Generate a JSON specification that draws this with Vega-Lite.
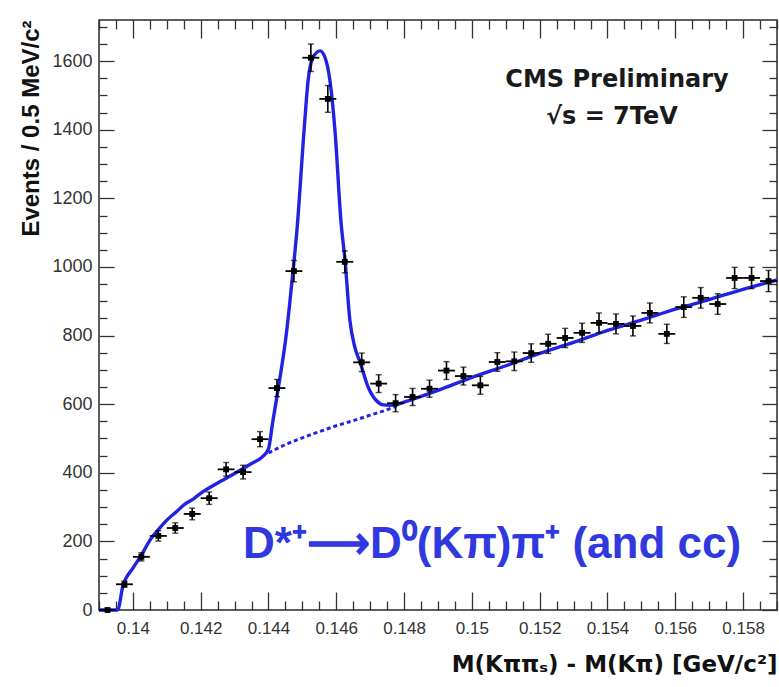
{
  "$schema": "https://vega.github.io/schema/vega-lite/v6.json",
  "width": 678,
  "height": 590,
  "autosize": {"type": "none"},
  "padding": {"left": 99, "top": 20, "right": 2, "bottom": 77},
  "background": "white",
  "config": {
    "font": "Liberation Sans",
    "view": {"stroke": "#2a2a2a", "strokeWidth": 1.5}
  },
  "datasets": {
    "bins": [
      {"x": 0.13925, "n": 0, "e": 0},
      {"x": 0.13975, "n": 75, "e": 9},
      {"x": 0.14025, "n": 155, "e": 12},
      {"x": 0.14075, "n": 216, "e": 15},
      {"x": 0.14125, "n": 239, "e": 15},
      {"x": 0.14175, "n": 280, "e": 17},
      {"x": 0.14225, "n": 326, "e": 18},
      {"x": 0.14275, "n": 410, "e": 20},
      {"x": 0.14325, "n": 402, "e": 20},
      {"x": 0.14375, "n": 498, "e": 22},
      {"x": 0.14425, "n": 647, "e": 25},
      {"x": 0.14475, "n": 988, "e": 31},
      {"x": 0.14525, "n": 1610, "e": 40},
      {"x": 0.14575, "n": 1490, "e": 39},
      {"x": 0.14625, "n": 1015, "e": 32},
      {"x": 0.14675, "n": 722, "e": 27},
      {"x": 0.14725, "n": 660, "e": 26},
      {"x": 0.14775, "n": 603, "e": 25},
      {"x": 0.14825, "n": 621, "e": 25},
      {"x": 0.14875, "n": 645, "e": 25},
      {"x": 0.14925, "n": 698, "e": 26},
      {"x": 0.14975, "n": 682, "e": 26},
      {"x": 0.15025, "n": 655, "e": 26},
      {"x": 0.15075, "n": 723, "e": 27},
      {"x": 0.15125, "n": 725, "e": 27},
      {"x": 0.15175, "n": 749, "e": 27},
      {"x": 0.15225, "n": 776, "e": 28},
      {"x": 0.15275, "n": 793, "e": 28},
      {"x": 0.15325, "n": 808, "e": 28},
      {"x": 0.15375, "n": 837, "e": 29},
      {"x": 0.15425, "n": 834, "e": 29},
      {"x": 0.15475, "n": 828, "e": 29},
      {"x": 0.15525, "n": 866, "e": 29},
      {"x": 0.15575, "n": 805, "e": 28},
      {"x": 0.15625, "n": 883, "e": 30},
      {"x": 0.15675, "n": 910, "e": 30},
      {"x": 0.15725, "n": 892, "e": 30},
      {"x": 0.15775, "n": 968, "e": 31},
      {"x": 0.15825, "n": 968, "e": 31},
      {"x": 0.15875, "n": 959, "e": 31}
    ],
    "fit": [
      {"x": 0.139, "n": 0},
      {"x": 0.13955, "n": 0},
      {"x": 0.1397, "n": 68},
      {"x": 0.14, "n": 122},
      {"x": 0.14025, "n": 160},
      {"x": 0.1405, "n": 203},
      {"x": 0.1408, "n": 240},
      {"x": 0.141, "n": 262},
      {"x": 0.1413, "n": 288},
      {"x": 0.1415, "n": 306},
      {"x": 0.1418, "n": 325},
      {"x": 0.142, "n": 340},
      {"x": 0.1425, "n": 370},
      {"x": 0.143, "n": 398},
      {"x": 0.1435, "n": 427},
      {"x": 0.1438, "n": 445},
      {"x": 0.144, "n": 470},
      {"x": 0.14412, "n": 545},
      {"x": 0.14427, "n": 635},
      {"x": 0.14452, "n": 800},
      {"x": 0.14472, "n": 985},
      {"x": 0.14484, "n": 1108},
      {"x": 0.14505, "n": 1399},
      {"x": 0.14517, "n": 1545},
      {"x": 0.14531, "n": 1610},
      {"x": 0.14552, "n": 1630},
      {"x": 0.14567, "n": 1610},
      {"x": 0.14581, "n": 1545},
      {"x": 0.14596, "n": 1399},
      {"x": 0.14614, "n": 1130},
      {"x": 0.14626, "n": 1017},
      {"x": 0.1464, "n": 845},
      {"x": 0.14655, "n": 765},
      {"x": 0.1467, "n": 723},
      {"x": 0.14694, "n": 650},
      {"x": 0.14723, "n": 606},
      {"x": 0.14738, "n": 598},
      {"x": 0.1476, "n": 597},
      {"x": 0.1478, "n": 600},
      {"x": 0.148, "n": 606},
      {"x": 0.149, "n": 640},
      {"x": 0.15, "n": 678},
      {"x": 0.151, "n": 712},
      {"x": 0.152, "n": 748},
      {"x": 0.153, "n": 780},
      {"x": 0.154, "n": 815},
      {"x": 0.155, "n": 845},
      {"x": 0.156, "n": 877},
      {"x": 0.157, "n": 905},
      {"x": 0.158, "n": 935},
      {"x": 0.159, "n": 962}
    ],
    "background": [
      {"x": 0.144, "n": 458},
      {"x": 0.1445, "n": 482},
      {"x": 0.145, "n": 502},
      {"x": 0.1455, "n": 520},
      {"x": 0.146, "n": 537},
      {"x": 0.1465, "n": 552},
      {"x": 0.147, "n": 568},
      {"x": 0.1475, "n": 584},
      {"x": 0.1478, "n": 596}
    ]
  },
  "layer": [
    {
      "data": {"name": "fit"},
      "mark": {"type": "line", "color": "#2222e4", "strokeWidth": 3.4, "interpolate": "monotone"},
      "encoding": {
        "x": {
          "field": "x", "type": "quantitative",
          "scale": {"domain": [0.139, 0.159], "nice": false, "zero": false},
          "axis": {
            "orient": "bottom",
            "values": [0.139,0.1395,0.14,0.1405,0.141,0.1415,0.142,0.1425,0.143,0.1435,0.144,0.1445,0.145,0.1455,0.146,0.1465,0.147,0.1475,0.148,0.1485,0.149,0.1495,0.15,0.1505,0.151,0.1515,0.152,0.1525,0.153,0.1535,0.154,0.1545,0.155,0.1555,0.156,0.1565,0.157,0.1575,0.158,0.1585,0.159],
            "labelExpr": "abs(datum.value * 500 - round(datum.value * 500)) < 0.01 ? '' + datum.value : ''",
            "tickSize": {"condition": {"test": "abs(datum.value * 500 - round(datum.value * 500)) < 0.01", "value": -18}, "value": -9},
            "tickColor": "#333", "tickWidth": 1.3,
            "domain": false, "grid": false,
            "labelFontSize": 17, "labelColor": "#333", "labelPadding": 28,
            "labelOverlap": false, "labelFlush": false,
            "title": "M(Kππₛ) - M(Kπ) [GeV/c²]",
            "titleAnchor": "end", "titleFont": "DejaVu Sans", "titleFontSize": 23, "titleFontWeight": "bold",
            "titleColor": "#111", "titlePadding": 8
          }
        },
        "y": {
          "field": "n", "type": "quantitative",
          "scale": {"domain": [0, 1720], "nice": false},
          "axis": {
            "orient": "left",
            "values": [0,50,100,150,200,250,300,350,400,450,500,550,600,650,700,750,800,850,900,950,1000,1050,1100,1150,1200,1250,1300,1350,1400,1450,1500,1550,1600,1650,1700],
            "labelExpr": "datum.value % 200 == 0 ? '' + datum.value : ''",
            "tickSize": {"condition": {"test": "datum.value % 200 == 0", "value": -15}, "value": -8},
            "tickColor": "#333", "tickWidth": 1.3,
            "domain": false, "grid": false,
            "labelFontSize": 18, "labelColor": "#333", "labelPadding": 22,
            "labelOverlap": false, "labelFlush": false,
            "title": "Events / 0.5 MeV/c²",
            "titleAnchor": "end", "titleFontSize": 24, "titleFontWeight": "bold",
            "titleColor": "#111", "titlePadding": 8
          }
        }
      }
    },
    {
      "data": {"name": "background"},
      "mark": {"type": "line", "color": "#2222e4", "strokeWidth": 3, "strokeDash": [4, 3], "interpolate": "monotone"},
      "encoding": {
        "x": {
          "field": "x", "type": "quantitative",
          "axis": {
            "orient": "top",
            "values": [0.139,0.1395,0.14,0.1405,0.141,0.1415,0.142,0.1425,0.143,0.1435,0.144,0.1445,0.145,0.1455,0.146,0.1465,0.147,0.1475,0.148,0.1485,0.149,0.1495,0.15,0.1505,0.151,0.1515,0.152,0.1525,0.153,0.1535,0.154,0.1545,0.155,0.1555,0.156,0.1565,0.157,0.1575,0.158,0.1585,0.159],
            "labels": false, "title": null, "domain": false, "grid": false,
            "tickSize": {"condition": {"test": "abs(datum.value * 500 - round(datum.value * 500)) < 0.01", "value": -18}, "value": -9},
            "tickColor": "#333", "tickWidth": 1.3
          }
        },
        "y": {
          "field": "n", "type": "quantitative",
          "axis": {
            "orient": "right",
            "values": [0,50,100,150,200,250,300,350,400,450,500,550,600,650,700,750,800,850,900,950,1000,1050,1100,1150,1200,1250,1300,1350,1400,1450,1500,1550,1600,1650,1700],
            "labels": false, "title": null, "domain": false, "grid": false,
            "tickSize": {"condition": {"test": "datum.value % 200 == 0", "value": -15}, "value": -8},
            "tickColor": "#333", "tickWidth": 1.3
          }
        }
      }
    },
    {
      "data": {"name": "bins"},
      "transform": [
        {"calculate": "datum.x - 0.00025", "as": "lo"},
        {"calculate": "datum.x + 0.00025", "as": "hi"},
        {"calculate": "datum.n - datum.e", "as": "down"},
        {"calculate": "datum.n + datum.e", "as": "up"}
      ],
      "layer": [
        {
          "mark": {"type": "rule", "color": "black", "strokeWidth": 1.8},
          "encoding": {
            "x": {"field": "lo", "type": "quantitative", "axis": null},
            "x2": {"field": "hi"},
            "y": {"field": "n", "type": "quantitative", "axis": null}
          }
        },
        {
          "mark": {"type": "rule", "color": "black", "strokeWidth": 1.6},
          "encoding": {
            "x": {"field": "x", "type": "quantitative", "axis": null},
            "y": {"field": "down", "type": "quantitative", "axis": null},
            "y2": {"field": "up"}
          }
        },
        {
          "mark": {"type": "tick", "color": "black", "orient": "horizontal", "size": 6, "thickness": 1.4},
          "encoding": {
            "x": {"field": "x", "type": "quantitative", "axis": null},
            "y": {"field": "up", "type": "quantitative", "axis": null}
          }
        },
        {
          "mark": {"type": "tick", "color": "black", "orient": "horizontal", "size": 6, "thickness": 1.4},
          "encoding": {
            "x": {"field": "x", "type": "quantitative", "axis": null},
            "y": {"field": "down", "type": "quantitative", "axis": null}
          }
        },
        {
          "mark": {"type": "point", "shape": "square", "filled": true, "color": "black", "size": 34, "opacity": 1},
          "encoding": {
            "x": {"field": "x", "type": "quantitative", "axis": null},
            "y": {"field": "n", "type": "quantitative", "axis": null}
          }
        }
      ]
    },
    {
      "data": {"values": [{"t": "CMS Preliminary"}]},
      "mark": {"type": "text", "align": "center", "baseline": "alphabetic", "font": "DejaVu Sans", "fontSize": 24, "fontWeight": "bold", "color": "#1a1a1a"},
      "encoding": {
        "x": {"datum": 0.15428, "type": "quantitative", "axis": null},
        "y": {"datum": 1525, "type": "quantitative", "axis": null},
        "text": {"field": "t"}
      }
    },
    {
      "data": {"values": [{"t": "√s = 7TeV"}]},
      "mark": {"type": "text", "align": "center", "baseline": "alphabetic", "font": "DejaVu Sans", "fontSize": 24, "fontWeight": "bold", "color": "#1a1a1a"},
      "encoding": {
        "x": {"datum": 0.15413, "type": "quantitative", "axis": null},
        "y": {"datum": 1417, "type": "quantitative", "axis": null},
        "text": {"field": "t"}
      }
    },
    {
      "data": {"values": [{"t": "D*⁺⟶D⁰(Kπ)π⁺ (and cc)"}]},
      "mark": {"type": "text", "align": "left", "baseline": "alphabetic", "fontSize": 44, "fontWeight": "bold", "color": "#3038e0"},
      "encoding": {
        "x": {"datum": 0.14325, "type": "quantitative", "axis": null},
        "y": {"datum": 152, "type": "quantitative", "axis": null},
        "text": {"field": "t"}
      }
    }
  ],
  "resolve": {"axis": {"x": "independent", "y": "independent"}}
}
